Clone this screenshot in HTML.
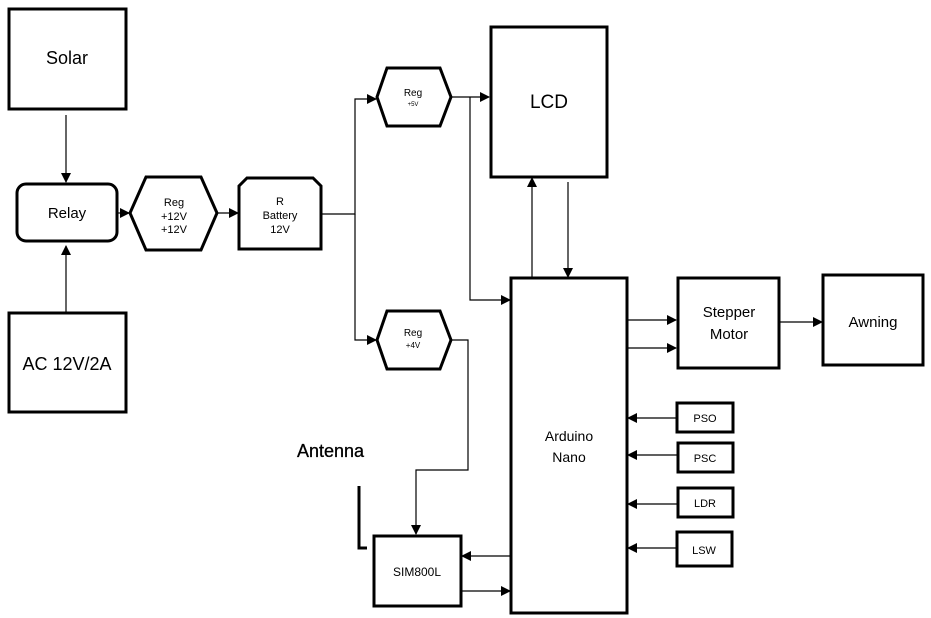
<!DOCTYPE html>
<html><head><style>body{margin:0;background:#fff}svg{display:block}text{font-family:"Liberation Sans",sans-serif;fill:#000}</style></head>
<body>
<svg width="931" height="618" viewBox="0 0 931 618" xmlns="http://www.w3.org/2000/svg">
<defs><marker id="a" markerWidth="10" markerHeight="10" refX="9" refY="5" orient="auto" markerUnits="userSpaceOnUse"><path d="M0,0 L10,5 L0,10 z" fill="#000"/></marker></defs>
<g fill="none" stroke="#000" stroke-width="3">
<rect x="9" y="9" width="117" height="100"/>
<rect x="17" y="184" width="100" height="57" rx="9"/>
<rect x="9" y="313" width="117" height="99"/>
<polygon points="130,213 146,177 201,177 217,213 201,250 146,250"/>
<path d="M239,249 V186 L247,178 H313 L321,186 V249 Z"/>
<polygon points="377,97 387,68 440,68 451,97 440,126 387,126"/>
<polygon points="377,340 387,311 440,311 451,340 440,369 387,369"/>
<rect x="491" y="27" width="116" height="150"/>
<rect x="511" y="278" width="116" height="335"/>
<rect x="678" y="278" width="101" height="90"/>
<rect x="823" y="275" width="100" height="90"/>
<rect x="677" y="403" width="56" height="29"/>
<rect x="678" y="443" width="55" height="29"/>
<rect x="678" y="488" width="55" height="29"/>
<rect x="677" y="532" width="55" height="34"/>
<rect x="374" y="536" width="87" height="70"/>
<path d="M359,486 V548 H367"/>
</g>
<g fill="none" stroke="#000" stroke-width="1.2">
<path d="M66,115 V182" marker-end="url(#a)"/>
<path d="M66,312 V246" marker-end="url(#a)"/>
<path d="M118,213 H129" marker-end="url(#a)"/>
<path d="M217,213 H238" marker-end="url(#a)"/>
<path d="M321,214 H355 V99 H376" marker-end="url(#a)"/>
<path d="M355,214 V340 H376" marker-end="url(#a)"/>
<path d="M451,97 H489" marker-end="url(#a)"/>
<path d="M470,97 V300 H510" marker-end="url(#a)"/>
<path d="M451,340 H468 V470 H416 V534" marker-end="url(#a)"/>
<path d="M532,277 V178" marker-end="url(#a)"/>
<path d="M568,182 V277" marker-end="url(#a)"/>
<path d="M627,320 H676" marker-end="url(#a)"/>
<path d="M627,348 H676" marker-end="url(#a)"/>
<path d="M779,322 H822" marker-end="url(#a)"/>
<path d="M676,418 H628" marker-end="url(#a)"/>
<path d="M677,455 H628" marker-end="url(#a)"/>
<path d="M677,504 H628" marker-end="url(#a)"/>
<path d="M676,548 H628" marker-end="url(#a)"/>
<path d="M510,556 H462" marker-end="url(#a)"/>
<path d="M462,591 H510" marker-end="url(#a)"/>
</g>
<g text-anchor="middle">
<text x="67" y="64" font-size="18">Solar</text>
<text x="67" y="218" font-size="15">Relay</text>
<text x="67" y="370" font-size="18">AC 12V/2A</text>
<text x="174" y="206" font-size="11">Reg</text>
<text x="174" y="220" font-size="11">+12V</text>
<text x="174" y="233" font-size="11">+12V</text>
<text x="280" y="205" font-size="11">R</text>
<text x="280" y="219" font-size="11">Battery</text>
<text x="280" y="233" font-size="11">12V</text>
<text x="413" y="96" font-size="10">Reg</text>
<text x="413" y="106" font-size="6">+5V</text>
<text x="413" y="336" font-size="10">Reg</text>
<text x="413" y="348" font-size="8">+4V</text>
<text x="549" y="108" font-size="19">LCD</text>
<text x="569" y="441" font-size="14">Arduino</text>
<text x="569" y="462" font-size="14">Nano</text>
<text x="729" y="317" font-size="15">Stepper</text>
<text x="729" y="339" font-size="15">Motor</text>
<text x="873" y="327" font-size="15">Awning</text>
<text x="705" y="422" font-size="11">PSO</text>
<text x="705" y="462" font-size="11">PSC</text>
<text x="705" y="507" font-size="11">LDR</text>
<text x="704" y="554" font-size="11">LSW</text>
<text x="417" y="576" font-size="12">SIM800L</text>
</g>
<text x="297" y="457" font-size="18" stroke="#000" stroke-width="0.3">Antenna</text>
</svg>
</body></html>
